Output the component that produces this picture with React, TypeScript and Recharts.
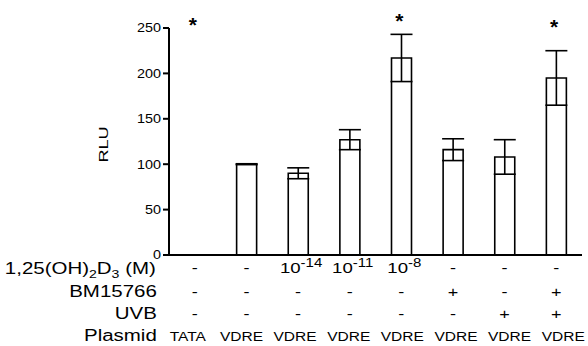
import React from 'react';
import { BarChart, Bar, XAxis, YAxis, ErrorBar, ReferenceDot } from 'recharts';

const groups = ['TATA', 'VDRE', 'VDRE 1e-14', 'VDRE 1e-11', 'VDRE 1e-8', 'VDRE BM15766', 'VDRE UVB', 'VDRE BM15766+UVB'];
const plasmid = ['TATA', 'VDRE', 'VDRE', 'VDRE', 'VDRE', 'VDRE', 'VDRE', 'VDRE'];
const vitD3Exponent = ['', '', '-14', '-11', '-8', '', '', ''];
const bm15766 = ['-', '-', '-', '-', '-', '+', '-', '+'];
const uvb = ['-', '-', '-', '-', '-', '-', '+', '+'];
const rlu = [null, 100, 90, 127, 217, 116, 108, 195];
const rluErr = [null, 0.5, 6, 11, 26, 12, 19, 30];
const significant = [true, false, false, false, true, false, false, true];
const starLevel = [259, 0, 0, 0, 263, 0, 0, 257];
const yTicks = [0, 50, 100, 150, 200, 250];

const data = groups.map((g, i) => ({ group: g, rlu: rlu[i], err: rluErr[i] }));

const FONT = '"Liberation Sans", Arial, sans-serif';
const SX = 1.2;
const SXL = 1.28;

const YTick = (props: any) => {
  const { x, y, payload } = props;
  return (
    <g transform={`translate(${x},${y})`}>
      <text transform={`scale(${SX},1)`} textAnchor="end" dy="0.36em" fontSize={12} fontFamily={FONT} fill="#000">
        {payload.value}
      </text>
    </g>
  );
};

const ROWS = [18, 42, 64, 86];

const Cell = ({ x, y, children, anchor = 'middle', size = 15, sx = SX }: any) => (
  <g transform={`translate(${x},${y})`}>
    <text transform={`scale(${sx},1)`} textAnchor={anchor} fontSize={size} fontFamily={FONT} fill="#000">
      {children}
    </text>
  </g>
);

const XTick = (props: any) => {
  const { x, y, payload } = props;
  const i = payload.index;
  const exp = vitD3Exponent[i];
  return (
    <g>
      {i === 0 && (
        <g>
          <g transform={`translate(${x - 39},${y + ROWS[0] + 1})`}>
            <text transform={`scale(${SXL},1)`} textAnchor="end" fontSize={16} fontFamily={FONT} fill="#000">
              1,25(OH)<tspan fontSize={11} dy={4}>2</tspan><tspan dy={-4}>D</tspan><tspan fontSize={11} dy={4}>3</tspan><tspan dy={-4}> (M)</tspan>
            </text>
          </g>
          <Cell x={x - 38} y={y + ROWS[1]} anchor="end" size={16} sx={SXL}>BM15766</Cell>
          <Cell x={x - 38} y={y + ROWS[2]} anchor="end" size={16} sx={SXL}>UVB</Cell>
          <Cell x={x - 38} y={y + ROWS[3]} anchor="end" size={16} sx={SXL}>Plasmid</Cell>
        </g>
      )}
      {exp ? (
        <g transform={`translate(${x + 3},${y + ROWS[0]})`}>
          <text transform={`scale(${SX},1)`} textAnchor="middle" fontSize={15.5} fontFamily={FONT} fill="#000">
            10<tspan fontSize={12.5} dy={-6}>{exp}</tspan>
          </text>
        </g>
      ) : (
        <Cell x={x} y={y + ROWS[0]}>-</Cell>
      )}
      <Cell x={x} y={y + ROWS[1]}>{bm15766[i]}</Cell>
      <Cell x={x} y={y + ROWS[2]}>{uvb[i]}</Cell>
      <Cell x={x - 7 + i * 2} y={y + ROWS[3]} size={13.5} sx={1.15}>{plasmid[i]}</Cell>
    </g>
  );
};

const YLabel = (props: any) => {
  const { viewBox } = props;
  const cx = viewBox.x + 103;
  const cy = viewBox.y + viewBox.height / 2 + 3;
  return (
    <g transform={`translate(${cx},${cy}) rotate(-90)`}>
      <text transform="scale(1.45,1)" textAnchor="middle" dy="0.36em" fontSize={12.5} fontFamily={FONT} fill="#000">
        RLU
      </text>
    </g>
  );
};

const Star = (props: any) => {
  const { cx, cy } = props;
  return (
    <text x={cx - 2} y={cy + 12} textAnchor="middle" fontSize={21} fontWeight="bold" fontFamily={FONT} fill="#000">
      *
    </text>
  );
};

export default function App() {
  return (
    <div style={{ position: 'absolute', left: 0, top: 0, background: '#fff' }}>
      <BarChart width={588} height={346} data={data} margin={{ top: 28, right: 6, bottom: 0, left: 0 }} barSize={20}>
        <XAxis
          dataKey="group"
          interval={0}
          height={91}
          tickLine={false}
          tickSize={0}
          tickMargin={0}
          axisLine={{ stroke: '#000', strokeWidth: 2 }}
          tick={<XTick />}
        />
        <YAxis
          width={169}
          domain={[0, 250]}
          ticks={yTicks}
          tickSize={6}
          tickMargin={2}
          axisLine={{ stroke: '#000', strokeWidth: 2 }}
          tickLine={{ stroke: '#000', strokeWidth: 2 }}
          tick={<YTick />}
          label={<YLabel />}
        />
        <Bar dataKey="rlu" fill="#fff" stroke="#000" strokeWidth={1.6} isAnimationActive={false}>
          <ErrorBar dataKey="err" width={11} stroke="#000" strokeWidth={1.6} direction="y" />
        </Bar>
        {groups.map((g, i) =>
          significant[i] ? (
            <ReferenceDot key={g} x={g} y={starLevel[i]} r={0} ifOverflow="visible" shape={<Star />} />
          ) : null
        )}
      </BarChart>
    </div>
  );
}
